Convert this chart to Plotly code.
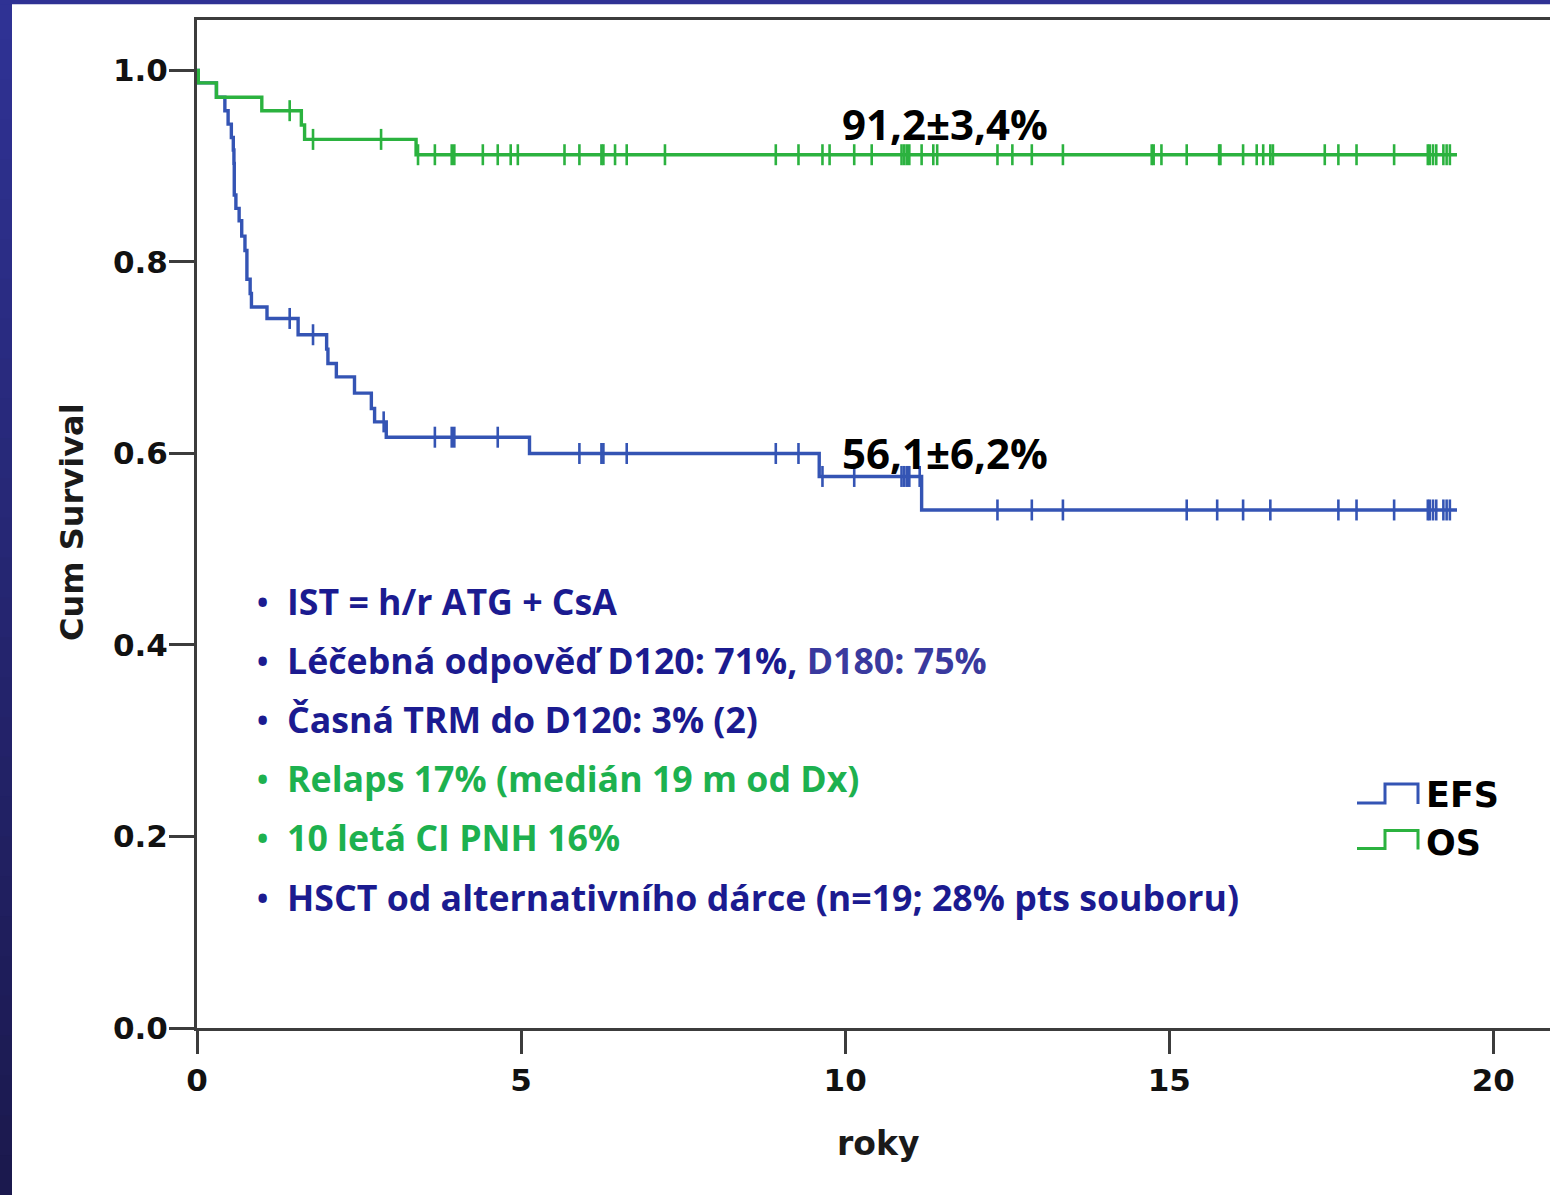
import plotly.graph_objects as go

# ---------------- data ----------------
os_times = [0.0, 0.02, 0.30, 1.00, 1.61, 1.66, 3.38]
os_surv = [1.0, 0.987, 0.972, 0.958, 0.943, 0.928, 0.912]
os_end = 19.44
os_censor = [1.43, 1.79, 2.84, 3.41, 3.67, 3.93, 3.97, 4.41, 4.64, 4.84, 4.95,
             5.67, 5.90, 6.24, 6.27, 6.45, 6.63, 7.22, 8.93, 9.28, 9.65, 9.76,
             10.14, 10.41, 10.87, 10.91, 10.95, 10.99, 11.18, 11.36, 11.42,
             12.35, 12.58, 12.88, 13.36, 14.73, 14.76, 14.88, 15.27, 15.77,
             15.79, 16.14, 16.35, 16.45, 16.56, 16.60, 17.40, 17.61, 17.89,
             18.47, 18.99, 19.02, 19.07, 19.12, 19.23, 19.28, 19.33]

efs_times = [0.0, 0.02, 0.30, 0.43, 0.48, 0.53, 0.56, 0.57, 0.575, 0.60, 0.65,
             0.69, 0.74, 0.77, 0.82, 0.84, 1.08, 1.56, 2.00, 2.02, 2.15, 2.43,
             2.69, 2.74, 2.92, 5.13, 9.60, 11.18]
efs_surv = [1.0, 0.987, 0.972, 0.958, 0.944, 0.930, 0.917, 0.903, 0.870, 0.856,
            0.843, 0.827, 0.812, 0.782, 0.767, 0.753, 0.741, 0.724, 0.709, 0.694,
            0.680, 0.663, 0.647, 0.633, 0.617, 0.600, 0.576, 0.541]
efs_end = 19.44
efs_censor = [1.43, 1.79, 2.88, 3.67, 3.93, 3.97, 4.64, 5.90, 6.24, 6.27, 6.63,
              8.93, 9.28, 9.65, 10.14, 10.87, 10.91, 10.95, 10.99, 11.15, 12.35,
              12.88, 13.36, 15.27, 15.74, 16.14, 16.56, 17.61, 17.89, 18.47,
              18.99, 19.02, 19.07, 19.12, 19.23, 19.28, 19.33]

x_ticks = [0, 5, 10, 15, 20]
y_ticks = [0.0, 0.2, 0.4, 0.6, 0.8, 1.0]
y_tick_labels = ["0.0", "0.2", "0.4", "0.6", "0.8", "1.0"]

series_names = ["EFS", "OS"]
os_label = "91,2±3,4%"
efs_label = "56,1±6,2%"
x_title = "roky"
y_title = "Cum Survival"

# ---------------- styles ----------------
GREEN = "#2bb23f"
BLUE = "#3454b4"
NAVY = "#1b1b90"
NAVY2 = "#3a3a9e"
TXTGREEN = "#1db14f"
AXIS = "#3c3c3c"
FRAME_TOP = (47, 50, 148)
FRAME_BOT = (27, 25, 78)

W, H = 1550, 1195
L, R, T, B = 197, 1550, 20, 1028


def px(x):
    return (x - L) / (R - L)


def py(y):
    return (B - y) / (B - T)


def step_value(times, surv, t):
    v = surv[0]
    for ti, si in zip(times, surv):
        if ti <= t:
            v = si
        else:
            break
    return v


fig = go.Figure()

for name, times, surv, end, cens, col in [
    ("EFS", efs_times, efs_surv, efs_end, efs_censor, BLUE),
    ("OS", os_times, os_surv, os_end, os_censor, GREEN),
]:
    fig.add_trace(go.Scatter(
        x=times + [end], y=surv + [surv[-1]], mode="lines",
        line=dict(shape="hv", color=col, width=3.4), name=name,
        showlegend=False, hoverinfo="skip"))
    fig.add_trace(go.Scatter(
        x=cens, y=[step_value(times, surv, c) for c in cens], mode="markers",
        marker=dict(symbol="line-ns", size=15,
                    line=dict(color=col, width=2.6)),
        showlegend=False, hoverinfo="skip"))

shapes = []
# dark frame on the left (gradient) and on top
n = 30
for i in range(n):
    f = i / (n - 1)
    c = tuple(round(FRAME_TOP[k] + (FRAME_BOT[k] - FRAME_TOP[k]) * f) for k in range(3))
    y0 = H * i / n
    y1 = H * (i + 1) / n + 1
    shapes.append(dict(type="rect", xref="paper", yref="paper",
                       x0=px(0), x1=px(12), y0=py(y1), y1=py(y0),
                       fillcolor="rgb(%d,%d,%d)" % c, line=dict(width=0),
                       layer="below"))
shapes.append(dict(type="rect", xref="paper", yref="paper",
                   x0=px(0), x1=px(W), y0=py(4.3), y1=py(0),
                   fillcolor="rgb(%d,%d,%d)" % FRAME_TOP, line=dict(width=0),
                   layer="below"))

# legend step icons
for ylo, yhi, col in [(803, 784, BLUE), (848.5, 830.5, GREEN)]:
    path = "M %f,%f L %f,%f L %f,%f L %f,%f L %f,%f" % (
        px(1357), py(ylo), px(1385), py(ylo), px(1385), py(yhi),
        px(1418), py(yhi), px(1418), py(ylo + 1))
    shapes.append(dict(type="path", xref="paper", yref="paper", path=path,
                       line=dict(color=col, width=3)))

annotations = []


def ann(text, x, y, size, color="black", family="Open Sans", bold=True,
        xanchor="left", angle=0):
    t = "<b>" + text + "</b>" if bold else text
    annotations.append(dict(text=t, x=px(x), y=py(y), xref="paper", yref="paper",
                            xanchor=xanchor, yanchor="middle", showarrow=False,
                            textangle=angle,
                            font=dict(size=size, color=color, family=family)))


ann(os_label, 840, 124, 42)
ann(efs_label, 840, 452, 42)

line2 = ("Léčebná odpověď D120: 71%, <span style='color:" + NAVY2 +
         "'>D180: 75%</span>")
bullets = [
    ("IST = h/r ATG + CsA", NAVY, 601),
    (line2, NAVY, 660),
    ("Časná TRM do D120: 3% (2)", NAVY, 719),
    ("Relaps 17% (medián 19 m od Dx)", TXTGREEN, 778),
    ("10 letá CI PNH 16%", TXTGREEN, 837),
    ("HSCT od alternativního dárce (n=19; 28% pts souboru)", NAVY, 897),
]
for text, col, y in bullets:
    ann("•", 262, y, 30, col, xanchor="center")
    ann(text, 285, y, 35.7, col)

ann(series_names[0], 1424, 795, 35, "black", family="DejaVu Sans")
ann(series_names[1], 1424, 843, 35, "black", family="DejaVu Sans")

ann(y_title, 72, 522, 32, "#1a1a1a", family="DejaVu Sans", bold=True,
    xanchor="center", angle=-90)
ann(x_title, 878, 1143, 33, "#1a1a1a", family="DejaVu Sans", xanchor="center")

TICKFONT = dict(family="DejaVu Sans", size=31, color="#111111", weight="bold")

fig.update_layout(
    width=W, height=H,
    margin=dict(l=L, r=W - R, t=T, b=H - B),
    paper_bgcolor="white", plot_bgcolor="white",
    shapes=shapes, annotations=annotations,
    xaxis=dict(range=[0, 20.875], tickvals=x_ticks, ticks="outside",
               ticklen=23, tickwidth=3, tickcolor=AXIS, showline=True,
               linecolor=AXIS, linewidth=3, mirror=True, showgrid=False,
               zeroline=False, tickfont=TICKFONT),
    yaxis=dict(range=[0, 1.0527], tickvals=y_ticks, ticktext=y_tick_labels,
               ticks="outside", ticklen=25, tickwidth=3, tickcolor=AXIS,
               showline=True, linecolor=AXIS, linewidth=3, showgrid=False,
               zeroline=False, tickfont=TICKFONT, ticklabelstandoff=-5),
)

fig.write_html("out.html")
